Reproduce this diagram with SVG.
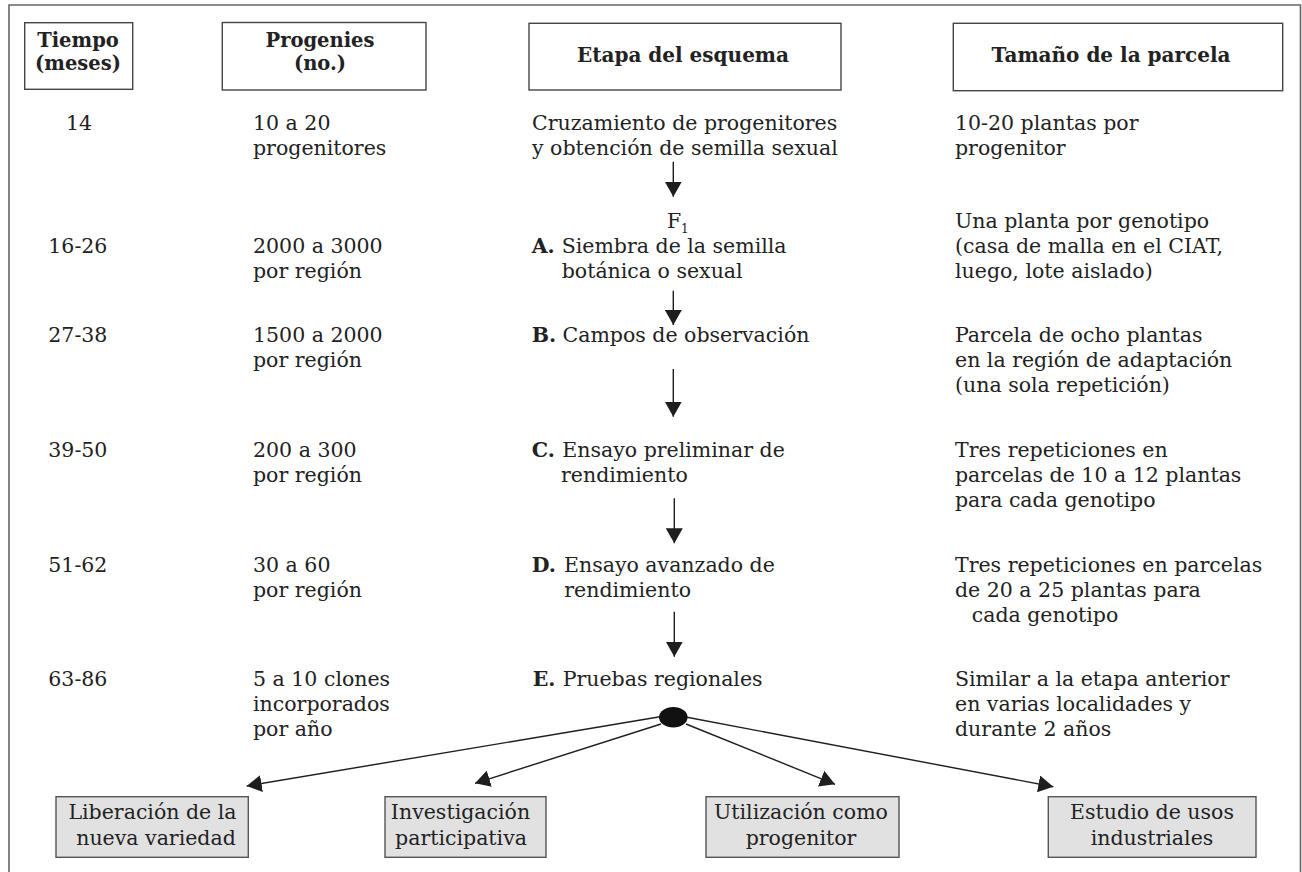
<svg xmlns="http://www.w3.org/2000/svg" width="1302" height="872" viewBox="0 0 1302 872">
<defs>
<style>
.t{font-family:"DejaVu Serif","Liberation Serif",serif;font-size:20.5px;fill:#222}
.b{font-weight:bold}
.h{font-family:"DejaVu Serif","Liberation Serif",serif;font-size:20px;font-weight:bold;fill:#222;text-anchor:middle}
.h2{font-size:19.5px}
.c{text-anchor:middle}
.hb{fill:#fff;stroke:#444;stroke-width:1.4}
.gb{fill:#e1e1e1;stroke:#555;stroke-width:1.4}
.ln{stroke:#1e1e1e;stroke-width:1.4;fill:none;marker-end:url(#ah)}
</style>
<marker id="ah" viewBox="0 0 15 17" refX="15" refY="8.5" markerWidth="15" markerHeight="17" markerUnits="userSpaceOnUse" orient="auto">
<path d="M0,0 L15,8.5 L0,17 z" fill="#1e1e1e"/>
</marker>
</defs>
<rect width="1302" height="872" fill="#fff"/>
<path d="M9,872 V5 H1300.5 V872" fill="none" stroke="#666" stroke-width="1.6"/>

<g id="hdr-tiempo">
<rect class="hb" x="24.7" y="22.7" width="108" height="66.6"/>
<text class="h h2" x="78" y="46.5">Tiempo</text>
<text class="h h2" x="78" y="70">(meses)</text>
</g>
<g id="hdr-progenies">
<rect class="hb" x="222.3" y="22.5" width="203.7" height="67.5"/>
<text class="h h2" x="320" y="46.5">Progenies</text>
<text class="h h2" x="320" y="70">(no.)</text>
</g>
<g id="hdr-etapa">
<rect class="hb" x="529" y="23.3" width="312" height="66.7"/>
<text class="h" x="683" y="61.5">Etapa del esquema</text>
</g>
<g id="hdr-tamano">
<rect class="hb" x="953.3" y="23.3" width="329.4" height="67.4"/>
<text class="h" x="1111" y="61.5">Tamaño de la parcela</text>
</g>

<g id="row-1">
<text class="t" x="66" y="130">14</text>
<text class="t" x="253" y="130">10 a 20</text>
<text class="t" x="253" y="155">progenitores</text>
<text class="t" x="532" y="130">Cruzamiento de progenitores</text>
<text class="t" x="532" y="155">y obtención de semilla sexual</text>
<text class="t" x="955" y="130">10-20 plantas por</text>
<text class="t" x="955" y="155">progenitor</text>
</g>

<g id="row-a">
<text class="t" x="667" y="227.7">F</text>
<text class="t" x="681" y="233" style="font-size:12px">1</text>
<text class="t" x="48.3" y="252.7">16-26</text>
<text class="t" x="253" y="252.7">2000 a 3000</text>
<text class="t" x="253" y="277.7">por región</text>
<text class="t b" x="531.7" y="252.7">A.</text>
<text class="t" x="561.7" y="252.7">Siembra de la semilla</text>
<text class="t" x="561.7" y="277.7">botánica o sexual</text>
<text class="t" x="955" y="227.7">Una planta por genotipo</text>
<text class="t" x="955" y="252.7">(casa de malla en el CIAT,</text>
<text class="t" x="955" y="277.7">luego, lote aislado)</text>
</g>

<g id="row-b">
<text class="t" x="48.3" y="341.7">27-38</text>
<text class="t" x="253" y="341.7">1500 a 2000</text>
<text class="t" x="253" y="366.7">por región</text>
<text class="t b" x="531.7" y="341.7">B.</text>
<text class="t" x="562.5" y="341.7">Campos de observación</text>
<text class="t" x="955" y="341.7">Parcela de ocho plantas</text>
<text class="t" x="955" y="366.7">en la región de adaptación</text>
<text class="t" x="955" y="391.7">(una sola repetición)</text>
</g>

<g id="row-c">
<text class="t" x="48.3" y="456.5">39-50</text>
<text class="t" x="253" y="456.5">200 a 300</text>
<text class="t" x="253" y="481.7">por región</text>
<text class="t b" x="531.7" y="456.5">C.</text>
<text class="t" x="562.3" y="456.5">Ensayo preliminar de</text>
<text class="t" x="561" y="481.7">rendimiento</text>
<text class="t" x="955" y="456.5">Tres repeticiones en</text>
<text class="t" x="955" y="481.7">parcelas de 10 a 12 plantas</text>
<text class="t" x="955" y="506.7">para cada genotipo</text>
</g>

<g id="row-d">
<text class="t" x="48.3" y="571.5">51-62</text>
<text class="t" x="253" y="571.5">30 a 60</text>
<text class="t" x="253" y="596.7">por región</text>
<text class="t b" x="531.7" y="571.5">D.</text>
<text class="t" x="564" y="571.5">Ensayo avanzado de</text>
<text class="t" x="564.3" y="596.7">rendimiento</text>
<text class="t" x="955" y="571.5">Tres repeticiones en parcelas</text>
<text class="t" x="955" y="596.7">de 20 a 25 plantas para</text>
<text class="t" x="971.7" y="621.7">cada genotipo</text>
</g>

<g id="row-e">
<text class="t" x="48.3" y="685.5">63-86</text>
<text class="t" x="253" y="685.5">5 a 10 clones</text>
<text class="t" x="253" y="710.5">incorporados</text>
<text class="t" x="253" y="735.5">por año</text>
<text class="t b" x="532.7" y="685.5">E.</text>
<text class="t" x="562.7" y="685.5">Pruebas regionales</text>
<text class="t" x="955" y="685.5">Similar a la etapa anterior</text>
<text class="t" x="955" y="710.5">en varias localidades y</text>
<text class="t" x="955" y="735.5">durante 2 años</text>
</g>

<g id="connectors">
<line class="ln" x1="673.3" y1="161.7" x2="673.3" y2="196.7"/>
<line class="ln" x1="673.3" y1="290.7" x2="673.3" y2="325"/>
<line class="ln" x1="673.3" y1="369" x2="673.3" y2="416.7"/>
<line class="ln" x1="674.3" y1="498.3" x2="674.3" y2="543.3"/>
<line class="ln" x1="674.3" y1="611.7" x2="674.3" y2="656.7"/>
<line class="ln" x1="660" y1="716.7" x2="246.7" y2="786"/>
<line class="ln" x1="661" y1="724" x2="475" y2="783.3"/>
<line class="ln" x1="686" y1="724" x2="835" y2="784.3"/>
<line class="ln" x1="687" y1="717.3" x2="1053.3" y2="786.7"/>
</g>

<g id="hub">
<ellipse cx="673.3" cy="717.3" rx="14.3" ry="10.3" fill="#111"/>
</g>

<g id="out-liberacion">
<rect class="gb" x="56" y="796.7" width="192.3" height="60.6"/>
<text class="t c" x="152.5" y="819.3">Liberación de la</text>
<text class="t c" x="156" y="845">nueva variedad</text>
</g>
<g id="out-investigacion">
<rect class="gb" x="385" y="796.7" width="161" height="60.6"/>
<text class="t c" x="460.5" y="819.3">Investigación</text>
<text class="t c" x="461" y="845">participativa</text>
</g>
<g id="out-utilizacion">
<rect class="gb" x="706" y="796.7" width="193" height="60.6"/>
<text class="t c" x="801" y="819.3">Utilización como</text>
<text class="t c" x="801" y="845">progenitor</text>
</g>
<g id="out-estudio">
<rect class="gb" x="1048.3" y="796.7" width="207.7" height="60.6"/>
<text class="t c" x="1152" y="819.3">Estudio de usos</text>
<text class="t c" x="1152" y="845">industriales</text>
</g>
</svg>
